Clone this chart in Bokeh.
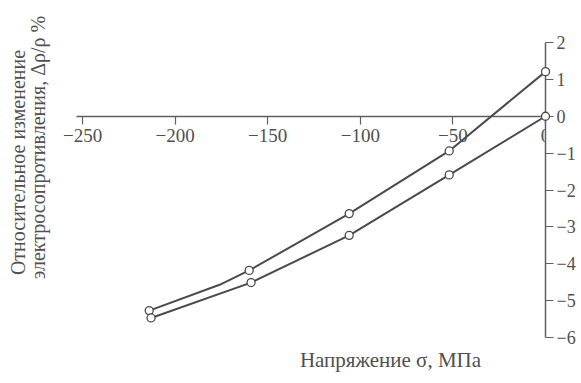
import math
from bokeh.plotting import figure
from bokeh.models import FixedTicker, Label, Range1d
from bokeh.embed import file_html
from bokeh.resources import INLINE

# ---- data ----
upper_x = [-214, -160, -106, -52, 0]
upper_y = [-5.27, -4.18, -2.64, -0.94, 1.21]
upper_line_x = [-214, -176, -160, -106, -52, 0]
upper_line_y = [-5.27, -4.57, -4.18, -2.64, -0.94, 1.21]

lower_x = [-213, -159, -106, -52, 0]
lower_y = [-5.47, -4.51, -3.23, -1.59, 0.0]

x_ticks = [-250, -200, -150, -100, -50, 0]
x_tick_labels = ["\u2212250", "\u2212200", "\u2212150", "\u2212100", "\u221250", "0"]
y_ticks = [-6, -5, -4, -3, -2, -1, 0, 1, 2]
y_tick_labels = ["\u22126", "\u22125", "\u22124", "\u22123", "\u22122", "\u22121", "0", "1", "2"]

x_title = "Напряжение σ, МПа"
y_title_1 = "Относительное изменение"
y_title_2 = "электросопротивления, Δρ/ρ %"

FONT = "'Liberation Serif'"
TXT = "#505050"
LINE = "#4a4a4a"
AXIS = "#606060"

p = figure(width=578, height=375,
           x_range=Range1d(-294.3, 0), y_range=Range1d(-7.030, 3.139),
           y_axis_location="right", x_axis_location="below",
           output_backend="svg", toolbar_location=None,
           min_border_left=0, min_border_top=0,
           min_border_right=33, min_border_bottom=0)
p.grid.visible = False
p.outline_line_color = None
p.background_fill_color = "white"
p.border_fill_color = "white"

xa = p.xaxis[0]
xa.fixed_location = 0
xa.bounds = (-253, 0)
xa.ticker = FixedTicker(ticks=x_ticks)
xa.major_label_overrides = dict(zip(x_ticks, x_tick_labels))
xa.minor_tick_line_color = None
xa.major_tick_in = 0
xa.major_tick_out = 8
xa.major_label_standoff = 5
xa.axis_line_color = AXIS
xa.axis_line_width = 1.5
xa.major_tick_line_color = AXIS
xa.major_tick_line_width = 1.2
xa.major_label_text_font = FONT
xa.major_label_text_font_size = "19px"
xa.major_label_text_color = TXT

ya = p.yaxis[0]
ya.bounds = (-6, 2)
ya.ticker = FixedTicker(ticks=y_ticks)
ya.major_label_overrides = dict(zip(y_ticks, y_tick_labels))
ya.minor_tick_line_color = None
ya.major_tick_in = 0
ya.major_tick_out = 8
ya.major_label_standoff = 3
ya.axis_line_color = AXIS
ya.axis_line_width = 1.5
ya.major_tick_line_color = AXIS
ya.major_tick_line_width = 1.2
ya.major_label_text_font = FONT
ya.major_label_text_font_size = "18px"
ya.major_label_text_color = TXT

r1 = p.line(upper_line_x, upper_line_y, line_color=LINE, line_width=2)
r2 = p.line(lower_x, lower_y, line_color=LINE, line_width=2)
r3 = p.scatter(upper_x, upper_y, marker="circle", size=8, fill_color="white",
               line_color=LINE, line_width=1.3)
r4 = p.scatter(lower_x, lower_y, marker="circle", size=8, fill_color="white",
               line_color=LINE, line_width=1.3)
for r in (r1, r2, r3, r4):
    r.level = "overlay"

labels = [
    Label(x=-83.7, y=-6.62, text=x_title, text_font=FONT,
          text_font_size="21px", text_color=TXT,
          text_align="center", text_baseline="alphabetic"),
    Label(x=-285.1, y=-1.254, text=y_title_1, angle=math.pi / 2,
          text_font=FONT, text_font_size="20px", text_color=TXT,
          text_align="center", text_baseline="middle"),
    Label(x=-273.8, y=-0.847, text=y_title_2, angle=math.pi / 2,
          text_font=FONT, text_font_size="20px", text_color=TXT,
          text_align="center", text_baseline="middle"),
]
for lb in labels:
    lb.level = "overlay"
    p.add_layout(lb)

open("out.html", "w").write(file_html(p, INLINE))
